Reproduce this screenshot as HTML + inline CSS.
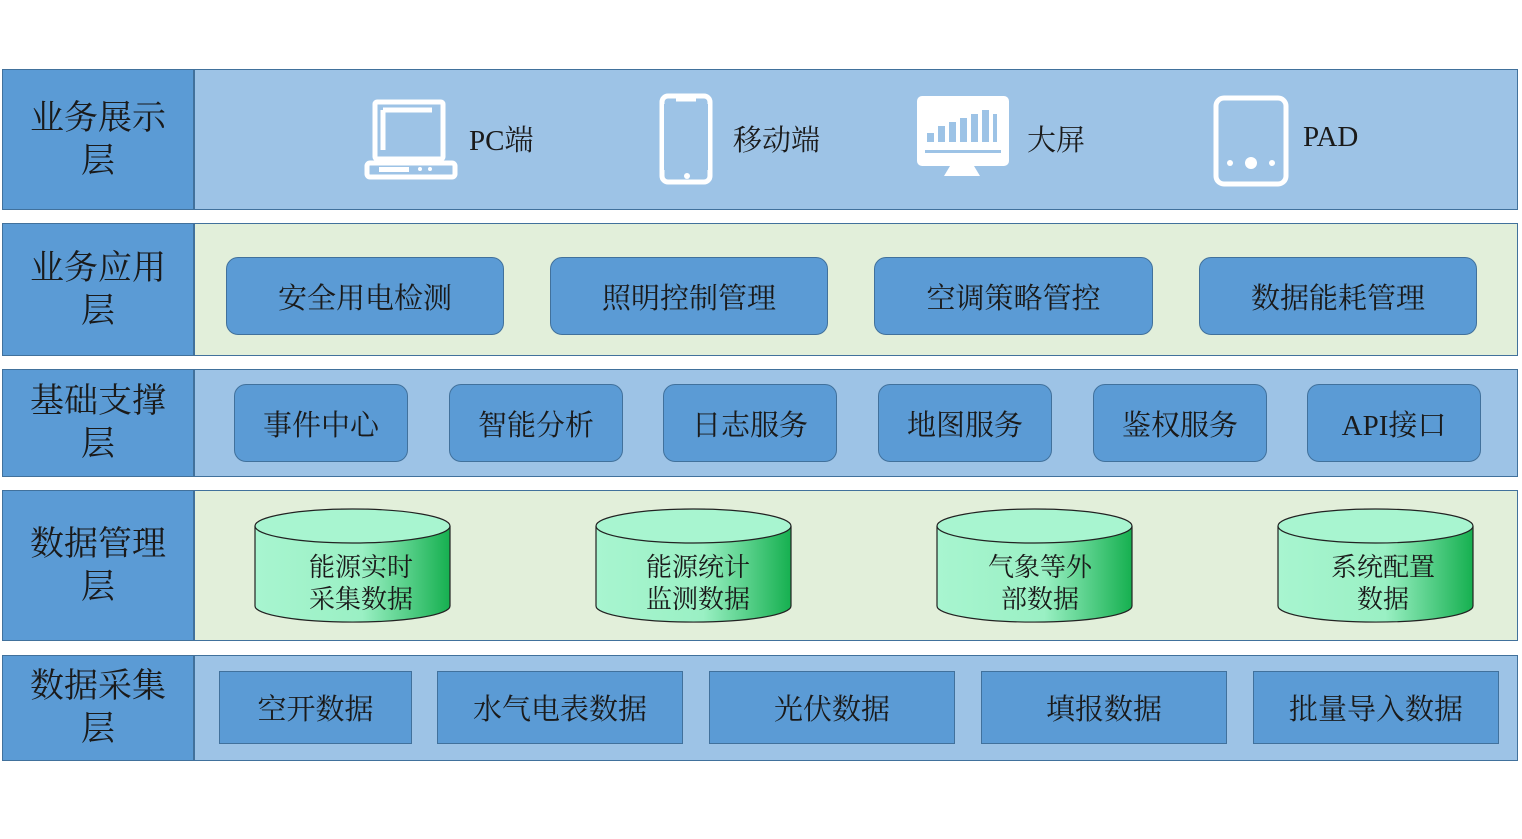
<!DOCTYPE html>
<html><head><meta charset="utf-8"><style>
body{margin:0;width:1522px;height:839px;background:#fff;position:relative;overflow:hidden;font-family:"Liberation Serif","Noto Serif CJK SC",serif;color:#1a1a1a}
.row{position:absolute;left:2px;width:1516px;border:1.5px solid #41719C;box-sizing:border-box}
.lab{position:absolute;left:0;top:0;bottom:0;width:190px;background:#5B9BD5;border-right:2px solid #41719C;display:flex;align-items:center;justify-content:center;text-align:center;font-size:34px;line-height:43px}
.b{position:absolute;background:#5B9BD5;border:1.5px solid #41719C;box-sizing:border-box;display:flex;align-items:center;justify-content:center;font-size:29px}
.r{border-radius:12px}
.ic{position:absolute;font-size:29px}
</style></head><body>
<div class="row" style="top:69px;height:141px;background:#9DC3E6"><div class="lab">业务展示<br>层</div></div>
<div class="row" style="top:223px;height:133px;background:#E2EFDA"><div class="lab">业务应用<br>层</div></div>
<div class="row" style="top:369px;height:108px;background:#9DC3E6"><div class="lab">基础支撑<br>层</div></div>
<div class="row" style="top:490px;height:151px;background:#E2EFDA"><div class="lab">数据管理<br>层</div></div>
<div class="row" style="top:655px;height:106px;background:#9DC3E6"><div class="lab">数据采集<br>层</div></div>

<svg style="position:absolute;left:0;top:0" width="1522" height="839">
<g fill="none" stroke="#fff" stroke-width="5">
<rect x="375" y="102" width="68" height="57" rx="2"/>
<path d="M383 110 V150 M383 110 H432"/>
<rect x="367" y="163" width="88" height="14" rx="3"/>
<rect x="662" y="96" width="48" height="86" rx="6"/>
<rect x="1216" y="98" width="70" height="86" rx="8"/>
</g>
<path d="M676 100 H696" stroke="#fff" stroke-width="3"/>
<circle cx="687" cy="176" r="3" fill="#fff"/>
<rect x="379" y="167" width="30" height="5" fill="#fff"/>
<circle cx="420" cy="169" r="2" fill="#fff"/><circle cx="430" cy="169" r="2" fill="#fff"/>
<rect x="664" y="104" width="44" height="66" fill="#9DC3E6"/>
<circle cx="1230" cy="163" r="3" fill="#fff"/><circle cx="1251" cy="163" r="6" fill="#fff"/><circle cx="1272" cy="163" r="3" fill="#fff"/>
<rect x="917" y="96" width="92" height="70" rx="5" fill="#fff"/>
<path d="M950 166 L944 176 H980 L974 166Z" fill="#fff"/>
<g fill="#9DC3E6"><rect x="927" y="133" width="7" height="9"/><rect x="938" y="126" width="7" height="16"/><rect x="949" y="122" width="7" height="20"/><rect x="960" y="118" width="7" height="24"/><rect x="971" y="114" width="7" height="28"/><rect x="982" y="110" width="7" height="32"/><rect x="993" y="114" width="4" height="28"/><rect x="925" y="150" width="76" height="3"/></g>
<defs><linearGradient id="g" x1="0" x2="1"><stop offset="0" stop-color="#A8F5D0"/><stop offset="0.55" stop-color="#9AF0C4"/><stop offset="1" stop-color="#16B050"/></linearGradient></defs>
<g stroke="#222" stroke-width="1.2">
<g id="c1"><path d="M255 526 V606 A97 16 0 0 0 450 606 V526" fill="url(#g)"/><ellipse cx="352.5" cy="526" rx="97.5" ry="17" fill="#A8F5D0"/></g>
<use href="#c1" x="341"/><use href="#c1" x="682"/><use href="#c1" x="1023"/>
</g>
</svg>
<div class="ic" style="left:469px;top:118px">PC端</div>
<div class="ic" style="left:733px;top:118px">移动端</div>
<div class="ic" style="left:1027px;top:118px">大屏</div>
<div class="ic" style="left:1303px;top:121px">PAD</div>

<div class="b r" style="left:226px;top:257px;width:278px;height:78px">安全用电检测</div>
<div class="b r" style="left:550px;top:257px;width:278px;height:78px">照明控制管理</div>
<div class="b r" style="left:874px;top:257px;width:279px;height:78px">空调策略管控</div>
<div class="b r" style="left:1199px;top:257px;width:278px;height:78px">数据能耗管理</div>

<div class="b r" style="left:234px;top:384px;width:174px;height:78px">事件中心</div>
<div class="b r" style="left:449px;top:384px;width:174px;height:78px">智能分析</div>
<div class="b r" style="left:663px;top:384px;width:174px;height:78px">日志服务</div>
<div class="b r" style="left:878px;top:384px;width:174px;height:78px">地图服务</div>
<div class="b r" style="left:1093px;top:384px;width:174px;height:78px">鉴权服务</div>
<div class="b r" style="left:1307px;top:384px;width:174px;height:78px">API接口</div>

<div style="position:absolute;left:255px;top:552px;width:212px;text-align:center;font-size:26px;line-height:32px">能源实时<br>采集数据</div>
<div style="position:absolute;left:596px;top:552px;width:204px;text-align:center;font-size:26px;line-height:32px">能源统计<br>监测数据</div>
<div style="position:absolute;left:937px;top:552px;width:206px;text-align:center;font-size:26px;line-height:32px">气象等外<br>部数据</div>
<div style="position:absolute;left:1278px;top:552px;width:210px;text-align:center;font-size:26px;line-height:32px">系统配置<br>数据</div>

<div class="b" style="left:219px;top:671px;width:193px;height:73px">空开数据</div>
<div class="b" style="left:437px;top:671px;width:246px;height:73px">水气电表数据</div>
<div class="b" style="left:709px;top:671px;width:246px;height:73px">光伏数据</div>
<div class="b" style="left:981px;top:671px;width:246px;height:73px">填报数据</div>
<div class="b" style="left:1253px;top:671px;width:246px;height:73px">批量导入数据</div>
</body></html>
